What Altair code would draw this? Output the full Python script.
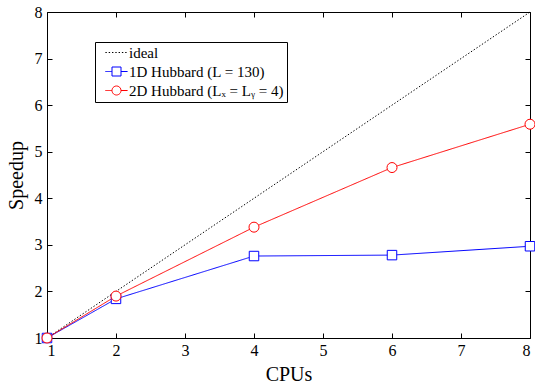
import altair as alt
import pandas as pd

# ---- data ----
cpus = [1, 2, 4, 6, 8]
hub1d = [1.0, 1.84, 2.76, 2.78, 2.97]
hub2d = [1.0, 1.90, 3.38, 4.66, 5.59]
ideal_cpus = [1, 8]
ideal_speedup = [1, 8]
series_labels = ["ideal", "1D Hubbard (L = 130)", "2D Hubbard (Lₓ = Lᵧ = 4)"]
series_colors = ["black", "blue", "red"]
x_ticks = [1, 2, 3, 4, 5, 6, 7, 8]
y_ticks = [1, 2, 3, 4, 5, 6, 7, 8]

rows = []
for c, s in zip(ideal_cpus, ideal_speedup):
    rows.append({"series": series_labels[0], "cpus": c, "speedup": s})
for c, s in zip(cpus, hub1d):
    rows.append({"series": series_labels[1], "cpus": c, "speedup": s})
for c, s in zip(cpus, hub2d):
    rows.append({"series": series_labels[2], "cpus": c, "speedup": s})
df = pd.DataFrame(rows)

W, H = 483, 326
FONT = "Liberation Serif"

xs = alt.Scale(domain=[1, 8], nice=False, zero=False)
ys = alt.Scale(domain=[1, 8], nice=False, zero=False)


def tick_axis(orient, offset, values):
    return alt.Axis(orient=orient, offset=offset, values=values, labels=False,
                    domain=False, ticks=True, tickSize=5, tickColor="black",
                    tickWidth=1, title=None, grid=False)


# legend symbol paths (line with marker in the middle); wide path, small size
r = 0.75
e = 1.85
sq_path = (f"M{-e},0L{-r},0M{-r},{-r}L{r},{-r}L{r},{r}L{-r},{r}Z"
           f"M{r},0L{e},0")
ci_path = (f"M{-e},0L{-r},0M{r},0A{r},{r},0,1,1,{-r},0A{r},{r},0,1,1,{r},0"
           f"M{r},0L{e},0")
line_path = f"M{-e},0L{e},0"
shape_expr = (f"indexof(datum.value, '1D') == 0 ? '{sq_path}' : "
              f"(indexof(datum.value, '2D') == 0 ? '{ci_path}' : '{line_path}')")

legend = alt.Legend(orient="none", legendX=48, legendY=30, title=None,
                    labelFont=FONT, labelFontSize=15, labelColor="black",
                    strokeColor="black", fillColor="white", padding=3,
                    rowPadding=3, symbolStrokeWidth=1, symbolSize=144,
                    symbolOffset=11, labelOffset=5, symbolFillColor="white",
                    symbolType={"expr": shape_expr})

lines = alt.Chart(df).mark_line(strokeWidth=1).encode(
    x=alt.X("cpus:Q", scale=xs,
            axis=alt.Axis(orient="bottom", values=x_ticks, ticks=False, domain=False,
                          grid=False, labelFont=FONT, labelFontSize=16,
                          labelColor="black", labelPadding=4, format="d",
                          title="CPUs", titleFont=FONT, titleFontSize=20,
                          titleFontWeight="normal", titleColor="black",
                          titlePadding=6)),
    y=alt.Y("speedup:Q", scale=ys,
            axis=alt.Axis(orient="left", values=y_ticks, ticks=False, domain=False,
                          grid=False, labelFont=FONT, labelFontSize=16,
                          labelColor="black", labelPadding=5, format="d",
                          title="Speedup", titleFont=FONT, titleFontSize=20,
                          titleFontWeight="normal", titleColor="black",
                          titlePadding=8)),
    color=alt.Color("series:N", scale=alt.Scale(domain=series_labels, range=series_colors),
                    legend=legend),
    strokeDash=alt.StrokeDash("series:N",
                              scale=alt.Scale(domain=series_labels,
                                              range=[[1.4, 1.9], [1, 0], [1, 0]]),
                              legend=legend),
)

squares = alt.Chart(df).transform_filter(
    alt.datum.series == series_labels[1]
).mark_point(shape="square", filled=True, fill="white", stroke="blue",
             strokeWidth=1, size=90, opacity=1).encode(
    x=alt.X("cpus:Q", scale=xs, axis=tick_axis("top", -H, x_ticks)),
    y=alt.Y("speedup:Q", scale=ys, axis=tick_axis("right", -W, y_ticks)),
)

circles = alt.Chart(df).transform_filter(
    alt.datum.series == series_labels[2]
).mark_point(shape="circle", filled=True, fill="white", stroke="red",
             strokeWidth=1, size=100, opacity=1).encode(
    x=alt.X("cpus:Q", scale=xs, axis=tick_axis("bottom", -H, x_ticks)),
    y=alt.Y("speedup:Q", scale=ys, axis=tick_axis("left", -W, y_ticks)),
)

chart = alt.layer(lines, squares, circles).resolve_axis(
    x="independent", y="independent"
).properties(
    width=W, height=H,
    padding={"left": 47, "top": 12, "right": 5, "bottom": 50},
    autosize=alt.AutoSizeParams(type="none"),
).configure_view(stroke="black", strokeWidth=1)

chart.save("out.html", embed_options={"renderer": "svg", "actions": False})
